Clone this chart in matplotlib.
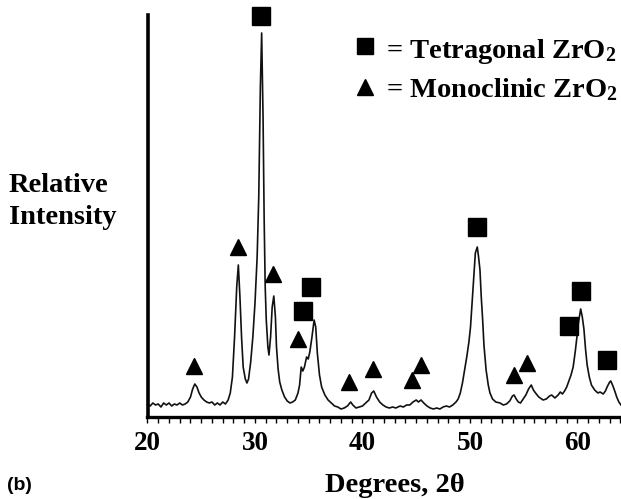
import numpy as np
import matplotlib.pyplot as plt

# XRD pattern, values (intensity in arbitrary units)
two_theta = [20.0, 20.25, 20.5, 20.75, 21.0, 21.25, 21.5, 21.75, 22.0, 22.25, 22.5, 22.75,
             23.0, 23.25, 23.5, 23.75, 24.0, 24.2, 24.4, 24.6, 24.8, 25.0, 25.25, 25.5,
             25.75, 26.0, 26.25, 26.5, 26.75, 27.0, 27.25, 27.5, 27.7, 27.9, 28.1, 28.3,
             28.45, 28.6, 28.75, 28.9, 29.1, 29.25, 29.4, 29.6, 29.8, 30.0, 30.2, 30.35,
             30.5, 30.62, 30.75, 30.85, 30.95, 31.05, 31.2, 31.3, 31.45, 31.6, 31.75, 31.9,
             32.0, 32.15, 32.3, 32.5, 32.75, 33.0, 33.25, 33.5, 33.75, 34.0, 34.15, 34.3,
             34.45, 34.6, 34.8, 34.95, 35.1, 35.3, 35.5, 35.65, 35.8, 36.0, 36.2, 36.5,
             36.8, 37.1, 37.4, 37.7, 38.0, 38.3, 38.6, 38.9, 39.1, 39.4, 39.7, 40.0,
             40.3, 40.6, 40.85, 41.05, 41.3, 41.6, 41.9, 42.2, 42.5, 42.8, 43.1, 43.5,
             43.8, 44.1, 44.4, 44.7, 45.0, 45.2, 45.45, 45.7, 46.0, 46.3, 46.6, 46.9,
             47.2, 47.5, 47.8, 48.1, 48.4, 48.7, 48.9, 49.1, 49.3, 49.5, 49.7, 49.9,
             50.05, 50.2, 50.35, 50.5, 50.68, 50.8, 50.93, 51.05, 51.18, 51.3, 51.5, 51.7,
             51.86, 52.1, 52.4, 52.8, 53.1, 53.4, 53.7, 53.95, 54.1, 54.3, 54.5, 54.7,
             54.95, 55.2, 55.45, 55.7, 55.9, 56.1, 56.4, 56.8, 57.1, 57.4, 57.6, 57.9,
             58.2, 58.4, 58.6, 58.8, 59.0, 59.2, 59.4, 59.6, 59.8, 59.95, 60.1, 60.3,
             60.45, 60.6, 60.75, 60.9, 61.1, 61.3, 61.6, 61.9, 62.1, 62.4, 62.6, 62.8,
             63.0, 63.1, 63.3, 63.5, 63.65, 63.85, 64.05]
intensity = [13, 11, 14, 12, 13, 10, 14, 12, 14, 11, 13, 12,
             14, 12, 13, 15, 20, 28, 33, 30, 24, 20, 17, 15,
             14, 15, 12, 14, 12, 15, 13, 17, 24, 40, 80, 130,
             152, 120, 80, 50, 38, 34, 38, 55, 80, 114, 160, 220,
             330, 384, 300, 200, 130, 97, 70, 62, 80, 110, 121, 100,
             70, 48, 35, 27, 20, 16, 14, 15, 17, 24, 32, 50,
             46, 50, 60, 58, 65, 80, 97, 90, 64, 42, 30, 22,
             17, 14, 11, 10, 8, 9, 11, 15, 12, 9, 10, 11,
             14, 17, 24, 26, 20, 15, 12, 10, 9, 10, 9, 11,
             10, 12, 12, 15, 17, 15, 17, 14, 11, 9, 8, 9,
             8, 10, 11, 10, 12, 15, 18, 24, 34, 47, 60, 75,
             90, 115, 140, 164, 170, 160, 147, 120, 97, 72, 47, 32,
             24, 18, 15, 14, 12, 13, 16, 21, 22, 18, 15, 14,
             18, 22, 28, 32, 27, 24, 20, 17, 18, 21, 22, 19,
             22, 25, 23, 26, 30, 36, 42, 50, 66, 80, 95, 108,
             100, 88, 68, 52, 40, 32, 27, 24, 25, 23, 26, 31,
             35, 36, 31, 25, 20, 15, 12]

# phase markers (position, height)
tetra_x = [30.6, 34.44, 35.2, 50.68, 59.24, 60.3, 62.77]
tetra_y = [401, 106, 130, 190, 91, 126, 57]
mono_x = [24.35, 28.45, 31.65, 33.97, 38.74, 41.0, 44.58, 45.44, 54.1, 55.33]
mono_y = [51, 170, 143, 78, 35, 48, 37, 52, 42, 54]

plt.rcParams['mathtext.default'] = 'regular'
serif = 'Liberation Serif'

W, H = 621, 499
fig = plt.figure(figsize=(W / 100, H / 100), dpi=100)
ax = fig.add_axes([147.5 / W, 1 - 417 / H, 1 - 147.5 / W, (417 - 15) / H])

ax.plot(two_theta, intensity, color='#111111', lw=1.2)
ax.plot(tetra_x, tetra_y, 's', color='black', ms=12.5, clip_on=False)
ax.plot(mono_x, mono_y, '^', color='black', ms=11.5, clip_on=False)

ax.set_xlim(20, 64.05)
ax.set_ylim(0, 402)

for s in ['top', 'right']:
    ax.spines[s].set_visible(False)
ax.spines['left'].set_linewidth(2.6)
ax.spines['bottom'].set_linewidth(2.4)

ax.set_yticks([])
ax.set_xticks([20, 30, 40, 50, 60])
ax.set_xticks(np.arange(20, 65, 1), minor=True)
ax.tick_params(axis='x', which='both', direction='out', length=4, width=1, pad=6)
for lab in ax.get_xticklabels():
    lab.set_fontfamily(serif)
    lab.set_fontweight('bold')
    lab.set_fontsize(19.5)

# legend drawn by hand
ax.plot([365 / W], [1 - 45.5 / H], 's', color='black', ms=11, transform=fig.transFigure, clip_on=False)
ax.plot([365 / W], [1 - 87 / H], '^', color='black', ms=11, transform=fig.transFigure, clip_on=False)
fig.text(386 / W, 1 - 58 / H, '= Tetragonal ZrO$_2$', family=serif, weight='bold', fontsize=20.5, va='baseline')
fig.text(386 / W, 1 - 97 / H, '= Monoclinic ZrO$_2$', family=serif, weight='bold', fontsize=20.5, va='baseline')

fig.text(9 / W, 1 - 192 / H, 'Relative', family=serif, weight='bold', fontsize=20.5, va='baseline')
fig.text(9 / W, 1 - 224 / H, 'Intensity', family=serif, weight='bold', fontsize=20.5, va='baseline')

fig.text(395 / W, 1 - 492 / H, 'Degrees, 2θ', family=serif, weight='bold', fontsize=20.5,
         ha='center', va='baseline')
fig.text(7 / W, 1 - 485 / H, '(b)', family='Liberation Sans', weight='bold', fontsize=14, va='center')

fig.savefig('out.png', dpi=100)
